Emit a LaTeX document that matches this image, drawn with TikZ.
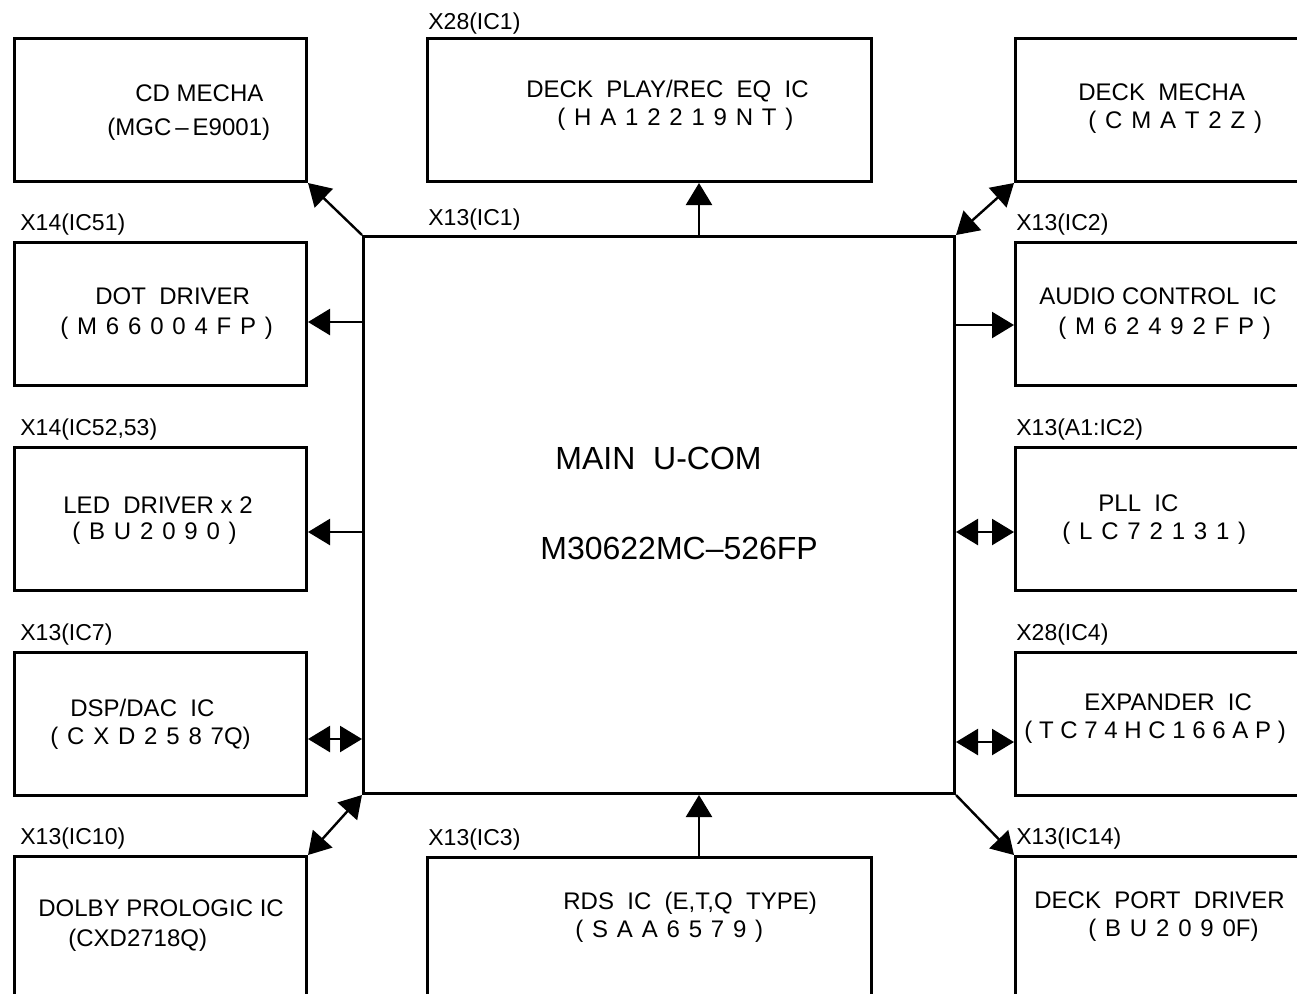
\documentclass[tikz,border=0pt]{standalone}
\usepackage{fontspec}
\setmainfont{Liberation Sans}
\newfontfamily\spc[WordSpace=1.32]{Liberation Sans}
\usetikzlibrary{arrows.meta}

\begin{document}
\begin{tikzpicture}[x=0.5pt, y=-0.5pt,
  blk/.style={draw, line width=1.5pt, anchor=north west, inner sep=0pt},
  side/.style={blk, minimum width=146pt, minimum height=71.5pt},
  rside/.style={blk, minimum width=148pt, minimum height=71.5pt},
  mid/.style={blk, minimum width=222pt, minimum height=71.5pt},
  txt/.style={anchor=north west, inner sep=0pt, align=left, font=\fontsize{12}{14}\selectfont},
  tag/.style={anchor=base west, inner sep=0pt, font=\fontsize{11.5}{14}\selectfont},
  arr/.style={line width=1.2pt, -{Triangle[length=11pt, width=13pt]}},
  dbl/.style={line width=1.2pt, {Triangle[length=11pt, width=13pt]}-{Triangle[length=11pt, width=13pt]}}]
\useasboundingbox (0,0) rectangle (1297,993);
\node[side] (cd) at (13,37) {};
\node[mid] (eq) at (426,37) {};
\node[rside] (dmecha) at (1014,37) {};
\node[blk, minimum width=295.5pt, minimum height=278.5pt] (ucom) at (362,235) {};
\node[side] (dot) at (13,241) {};
\node[side] (led) at (13,446) {};
\node[side] (dsp) at (13,651) {};
\node[side] (dolby) at (13,855) {};
\node[rside] (audio) at (1014,241) {};
\node[rside] (pll) at (1014,446) {};
\node[rside] (expd) at (1014,651) {};
\node[rside] (dport) at (1014,855) {};
\node[mid] (rds) at (426,856) {};
\node[tag] (eq-tag) at ([xshift=1pt, yshift=4pt]eq.north west) {X28(IC1)};
\node[tag] (ucom-tag) at ([xshift=33pt, yshift=5pt]ucom.north west) {X13(IC1)};
\node[tag] (dot-tag) at ([xshift=3.5pt, yshift=5.5pt]dot.north west) {X14(IC51)};
\node[tag] (led-tag) at ([xshift=3.5pt, yshift=5.5pt]led.north west) {X14(IC52,53)};
\node[tag] (dsp-tag) at ([xshift=3.5pt, yshift=5.5pt]dsp.north west) {X13(IC7)};
\node[tag] (dolby-tag) at ([xshift=3.5pt, yshift=5.5pt]dolby.north west) {X13(IC10)};
\node[tag] (audio-tag) at ([xshift=1pt, yshift=5.5pt]audio.north west) {X13(IC2)};
\node[tag] (pll-tag) at ([xshift=1pt, yshift=5.5pt]pll.north west) {X13(A1:IC2)};
\node[tag] (expd-tag) at ([xshift=1pt, yshift=5.5pt]expd.north west) {X28(IC4)};
\node[tag] (dport-tag) at ([xshift=1pt, yshift=5.5pt]dport.north west) {X13(IC14)};
\node[tag] (rds-tag) at ([xshift=1pt, yshift=5.5pt]rds.north west) {X13(IC3)};
\node[txt] (cd-txt) at ([xshift=47pt, yshift=-23.75pt]cd.north west) {\hspace*{14pt}CD MECHA\\[3pt](MGC\,--\,E9001)};
\node[txt] (eq-txt) at ([xshift=50pt, yshift=-21.25pt]eq.north west) {DECK~~PLAY/REC~~EQ~~IC\\\hspace*{15.5pt}{\spc ( H A 1 2 2 1 9 N T )}};
\node[txt] (dmecha-txt) at ([xshift=32pt, yshift=-23.25pt]dmecha.north west) {DECK~~MECHA\\\hspace*{5pt}{\spc ( C M A T 2 Z )}};
\node[txt] (dot-txt) at ([xshift=23.5pt, yshift=-23.25pt]dot.north west) {\hspace*{17.5pt}DOT~~DRIVER\\[1pt]{\spc ( M 6 6 0 0 4 F P )}};
\node[txt] (led-txt) at ([xshift=25pt, yshift=-25.25pt]led.north west) {LED~~DRIVER x 2\\[-1pt]\hspace*{4.5pt}{\spc ( B U 2 0 9 0 )}};
\node[txt] (dsp-txt) at ([xshift=18.5pt, yshift=-23.75pt]dsp.north west) {\hspace*{10pt}DSP/DAC~~IC\\{\spc ( C X D 2 5 8 7Q)}};
\node[txt] (dolby-txt) at ([xshift=12.5pt, yshift=-22.25pt]dolby.north west) {DOLBY PROLOGIC IC\\[1pt]\hspace*{15pt}(CXD2718Q)};
\node[txt] (audio-txt) at ([xshift=12.5pt, yshift=-23.25pt]audio.north west) {AUDIO CONTROL~~IC\\[1pt]\hspace*{9.5pt}{\spc ( M 6 2 4 9 2 F P )}};
\node[txt] (pll-txt) at ([xshift=24pt, yshift=-24.25pt]pll.north west) {\hspace*{18pt}PLL~~IC\\{\spc ( L C 7 2 1 3 1 )}};
\node[txt] (expd-txt) at ([xshift=5pt, yshift=-21.25pt]expd.north west) {\hspace*{30pt}EXPANDER~~IC\\( T C 7 4 H C 1 6 6 A P )};
\node[txt] (dport-txt) at ([xshift=10pt, yshift=-18.25pt]dport.north west) {DECK~~PORT~~DRIVER\\\hspace*{27pt}{\spc ( B U 2 0 9 0F)}};
\node[txt] (rds-txt) at ([xshift=68.5pt, yshift=-17.75pt]rds.north west) {RDS~~IC~~(E,T,Q~~TYPE)\\\hspace*{6pt}{\spc ( S A A 6 5 7 9 )}};
\node[txt, font=\fontsize{16}{45}\selectfont] (ucom-txt) at ([xshift=89pt, yshift=-105.75pt]ucom.north west) {\hspace*{7.5pt}MAIN~~U-COM\\M30622MC--526FP};
\draw[arr] (ucom.north west) -- (cd.south east);
\draw[arr] ([xshift=20pt]ucom.north) -- ([xshift=20pt]ucom.north |- eq.south);
\draw[dbl] (ucom.north east) -- (dmecha.south west);
\draw[arr] ([yshift=-4pt]dot.east -| ucom.west) -- ([yshift=-4pt]dot.east);
\draw[arr] ([yshift=-6.5pt]led.east -| ucom.west) -- ([yshift=-6.5pt]led.east);
\draw[dbl] ([yshift=-7.5pt]dsp.east -| ucom.west) -- ([yshift=-7.5pt]dsp.east);
\draw[dbl] (ucom.south west) -- (dolby.north east);
\draw[arr] ([yshift=-5.5pt]audio.west -| ucom.east) -- ([yshift=-5.5pt]audio.west);
\draw[dbl] ([yshift=-6.5pt]pll.west -| ucom.east) -- ([yshift=-6.5pt]pll.west);
\draw[dbl] ([yshift=-9pt]expd.west -| ucom.east) -- ([yshift=-9pt]expd.west);
\draw[arr] (ucom.south east) -- (dport.north west);
\draw[arr] ([xshift=20pt]ucom.south |- rds.north) -- ([xshift=20pt]ucom.south);
\end{tikzpicture}
\end{document}
